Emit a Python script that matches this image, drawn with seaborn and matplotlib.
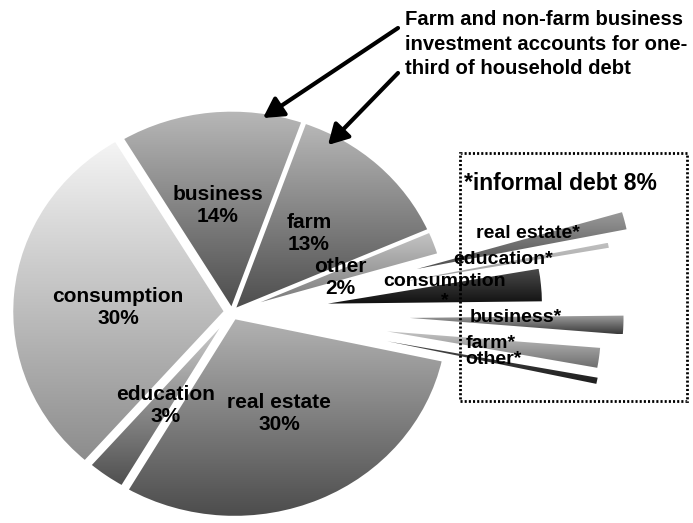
import numpy as np
import matplotlib
matplotlib.use("Agg")
import matplotlib.pyplot as plt
from matplotlib.colors import LinearSegmentedColormap
from matplotlib.patches import Rectangle
import seaborn as sns

# Household debt by purpose, % of all household debt
formal_labels = ["other", "farm", "business", "consumption", "education", "real estate"]
formal_shares = [2, 13, 14, 30, 3, 30]

# Informal debt (8% of the total), split by the same purposes
informal_labels = ["other*", "farm*", "business*", "consumption\n*", "education*", "real estate*"]
informal_shares = [0.5, 1.6, 1.5, 2.6, 0.4, 1.4]
informal_total = 8

note_lines = ["Farm and non-farm business",
              "investment accounts for one-",
              "third of household debt"]

# ---- styling -------------------------------------------------------------
sns.set_theme(style="white")
plt.rcParams["font.family"] = ["Liberation Sans", "DejaVu Sans"]

W, H = 693, 523
CX, CY = 232, 312          # pie centre, pixels from the top-left corner
RX, RY = 214, 200          # pie radius in pixels (horizontal / vertical)

def px(x, y):
    """Pixel position (top-left origin) -> data coordinates."""
    return ((x - CX) / RX, (CY - y) / RY)

# vertical gradients (top colour, bottom colour) for each wedge
informal_grad = [("#4a4a4a", "#1e1e1e"), ("#c4c4c4", "#6e6e6e"),
                 ("#a0a0a0", "#383838"), ("#4a4a4a", "#111111"),
                 ("#c0c0c0", "#9a9a9a"), ("#9a9a9a", "#4e4e4e")]
formal_grad = [("#c6c6c6", "#737373"), ("#b8b8b8", "#4c4c4c"),
               ("#b8b8b8", "#4c4c4c"), ("#f5f5f5", "#8c8c8c"),
               ("#d4d4d4", "#4e4e4e"), ("#b3b3b3", "#4c4c4c")]
informal_explode = [0.74, 0.73, 0.83, 0.45, 0.79, 0.89]
formal_explode = [0.01, 0.01, 0.01, 0.03, 0.015, 0.03]

fig = plt.figure(figsize=(W / 100, H / 100), dpi=100)
ax = fig.add_axes([0, 0, 1, 1])

values = informal_shares + formal_shares
wedges, _ = ax.pie(values, startangle=-12.3, counterclock=True,
                   explode=informal_explode + formal_explode,
                   radius=1, center=(0, 0), wedgeprops=dict(linewidth=0))

n_inf = len(informal_shares)
grad = np.linspace(0, 1, 256)[:, None]
for i, (w, (top, bot)) in enumerate(zip(wedges, informal_grad + formal_grad)):
    ext = w.get_path().get_extents()
    cmap = LinearSegmentedColormap.from_list("g%d" % i, [top, bot])
    im = ax.imshow(grad, cmap=cmap, origin="upper", aspect="auto",
                   interpolation="bilinear", zorder=0.5,
                   extent=(ext.x0, ext.x1, ext.y0, ext.y1))
    im.set_clip_path(w)
    w.set_facecolor("none")
    if i >= n_inf:
        w.set_edgecolor("white")
        w.set_linewidth(2.4)

ax.set_aspect("auto")
ax.set_xlim(-CX / RX, (W - CX) / RX)
ax.set_ylim(-(H - CY) / RY, CY / RY)
ax.axis("off")

# ---- wedge labels ---------------------------------------------------------
formal_pos = [(340, 277), (309, 233), (218, 205), (118, 307), (166, 405), (279, 413)]
for name, share, (x, y) in zip(formal_labels, formal_shares, formal_pos):
    ax.text(*px(x, y), f"{name}\n{share}%", ha="center", va="center",
            fontsize=15, fontweight="bold", color="black", zorder=5)

informal_pos = [(493, 360), (491, 343), (516, 318), (445, 291), (503, 260), (528, 233)]
for name, (x, y) in zip(informal_labels, informal_pos):
    ax.text(*px(x, y), name, ha="center", va="center",
            fontsize=14, fontweight="bold", color="black", zorder=5)

ax.text(*px(560, 184), f"*informal debt {informal_total}%", ha="center", va="center",
        fontsize=16.5, fontweight="bold", color="black", zorder=5)

# dotted frame around the informal breakdown
x0, y0 = px(460, 401)
x1, y1 = px(687, 153)
ax.add_patch(Rectangle((x0, y0), x1 - x0, y1 - y0, fill=False, edgecolor="black",
                       linewidth=2, linestyle=(0, (0.75, 0.75)), zorder=4))

# ---- call-out -------------------------------------------------------------
ax.text(*px(405, 10), "\n".join(note_lines), ha="left", va="top",
        fontsize=14.6, fontweight="bold", color="black", linespacing=1.38, zorder=5)
for tail, head in [((398, 28), (263, 118)), ((398, 73), (328, 145))]:
    ax.annotate("", xy=px(*head), xytext=px(*tail),
                arrowprops=dict(arrowstyle="-|>,head_length=0.8,head_width=0.45",
                                lw=3, color="black", shrinkA=0, shrinkB=0,
                                mutation_scale=15), zorder=6)

fig.savefig("out.png", dpi=100, facecolor="white")
